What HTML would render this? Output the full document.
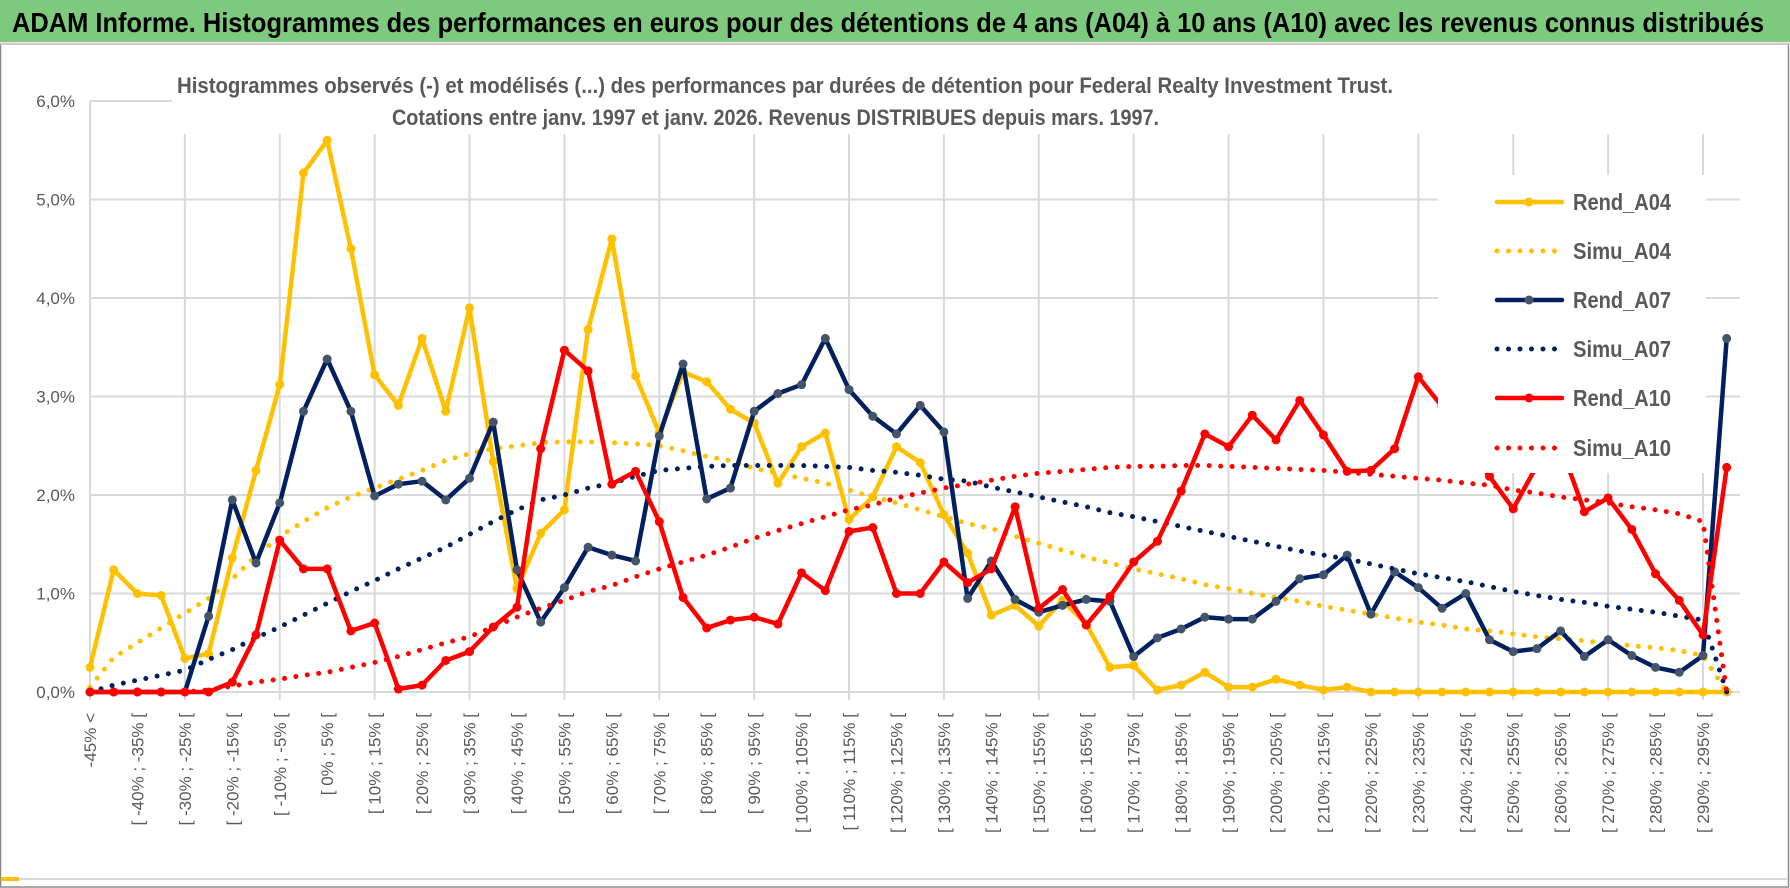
<!DOCTYPE html>
<html><head><meta charset="utf-8"><style>
html,body{margin:0;padding:0;background:#fff;}
svg{display:block;font-family:"Liberation Sans Narrow","Liberation Sans",sans-serif;}
</style></head><body>
<svg id="chart" width="1790" height="888" viewBox="0 0 1790 888">
<rect x="0" y="0" width="1790" height="888" fill="#fff"/>
<rect x="0.5" y="44" width="1788" height="843" fill="none" stroke="#8a8a8a" stroke-width="1.5"/>
<line x1="1" y1="879" x2="1788" y2="879" stroke="#d9d9d9" stroke-width="2"/>
<rect x="1" y="877" width="18" height="4" fill="#FFC000"/>
<rect x="0" y="0" width="1790" height="42" fill="#7DC97D"/>
<line x1="0" y1="43.5" x2="1790" y2="43.5" stroke="#d0d0d0" stroke-width="2"/>
<text x="12" y="32" font-size="28" font-weight="bold" fill="#000" textLength="1752" lengthAdjust="spacingAndGlyphs">ADAM Informe. Histogrammes des performances en euros pour des détentions de 4 ans (A04) à 10 ans (A10) avec les revenus connus distribués</text>
<g id="grid"></g>
<g id="ylabels"></g>
<g id="xlabels"></g>
<g id="series"></g>
<rect x="172" y="64" width="1590" height="70" fill="#fff"/>
<text x="177" y="93" font-size="22" font-weight="bold" fill="#595959" textLength="1216" lengthAdjust="spacingAndGlyphs">Histogrammes observés (-) et modélisés (...) des performances par durées de détention pour Federal Realty Investment Trust.</text>
<text x="392" y="125" font-size="22" font-weight="bold" fill="#595959" textLength="767" lengthAdjust="spacingAndGlyphs">Cotations entre janv. 1997 et janv. 2026. Revenus DISTRIBUES depuis mars. 1997.</text>
<g id="legend"></g>
</svg>
<script>
const categories = [];
categories.push("-45% <");
for (let a = -45; a <= 295; a += 5) categories.push("[ " + a + "% ; " + (a + 5) + "% [");
const yTicks = [0, 1, 2, 3, 4, 5, 6];
const yTickLabels = ["0,0%", "1,0%", "2,0%", "3,0%", "4,0%", "5,0%", "6,0%"];
const seriesNames = ["Rend_A04", "Simu_A04", "Rend_A07", "Simu_A07", "Rend_A10", "Simu_A10"];
const rendA04 = [0.25,1.24,1.0,0.98,0.34,0.39,1.36,2.25,3.12,5.27,5.6,4.5,3.22,2.91,3.59,2.85,3.9,2.34,1.05,1.61,1.85,3.68,4.6,3.21,2.63,3.25,3.15,2.87,2.73,2.12,2.49,2.63,1.75,1.98,2.49,2.33,1.8,1.41,0.78,0.88,0.67,0.93,0.69,0.25,0.27,0.02,0.07,0.2,0.05,0.05,0.13,0.07,0.02,0.05,0,0,0,0,0,0,0,0,0,0,0,0,0,0,0,0];
const simuA04 = [0.05,0.35,0.5,0.65,0.8,0.95,1.15,1.38,1.58,1.73,1.87,1.98,2.07,2.16,2.25,2.35,2.42,2.47,2.5,2.53,2.54,2.54,2.53,2.52,2.5,2.45,2.39,2.35,2.27,2.22,2.17,2.12,2.05,1.98,1.92,1.85,1.78,1.71,1.66,1.58,1.51,1.44,1.37,1.31,1.25,1.2,1.15,1.09,1.05,1.0,0.96,0.92,0.87,0.83,0.79,0.75,0.71,0.68,0.64,0.62,0.59,0.56,0.54,0.52,0.49,0.47,0.45,0.42,0.37,0];
const rendA07 = [0,0,0,0,0,0.77,1.95,1.31,1.92,2.85,3.38,2.85,1.99,2.11,2.14,1.95,2.17,2.74,1.24,0.71,1.06,1.47,1.39,1.33,2.6,3.33,1.96,2.07,2.85,3.03,3.12,3.59,3.07,2.8,2.62,2.91,2.64,0.95,1.33,0.94,0.81,0.88,0.94,0.92,0.36,0.55,0.64,0.76,0.74,0.74,0.92,1.15,1.19,1.39,0.79,1.22,1.06,0.85,1.0,0.53,0.41,0.44,0.62,0.36,0.53,0.37,0.25,0.2,0.37,3.59];
const simuA07 = [0,0.07,0.12,0.17,0.22,0.33,0.43,0.55,0.66,0.78,0.9,1.02,1.13,1.25,1.36,1.47,1.6,1.73,1.85,1.95,2.0,2.07,2.12,2.19,2.25,2.27,2.29,2.3,2.3,2.3,2.3,2.29,2.28,2.25,2.23,2.2,2.16,2.14,2.08,2.03,1.98,1.93,1.88,1.82,1.78,1.73,1.68,1.63,1.58,1.53,1.48,1.43,1.39,1.35,1.3,1.25,1.2,1.16,1.12,1.07,1.02,0.98,0.94,0.91,0.87,0.84,0.81,0.77,0.73,0];
const rendA10 = [0,0,0,0,0,0,0.1,0.58,1.54,1.25,1.25,0.62,0.7,0.03,0.07,0.32,0.41,0.66,0.86,2.47,3.47,3.26,2.11,2.24,1.73,0.96,0.65,0.73,0.76,0.69,1.21,1.03,1.63,1.67,1.0,1.0,1.32,1.11,1.25,1.88,0.85,1.04,0.68,0.97,1.32,1.53,2.04,2.62,2.49,2.81,2.56,2.96,2.61,2.24,2.25,2.47,3.2,2.9,2.5,2.19,1.86,2.3,2.5,1.83,1.97,1.65,1.2,0.93,0.58,2.28];
const simuA10 = [0,0,0,0,0,0.02,0.06,0.1,0.13,0.17,0.2,0.25,0.3,0.36,0.43,0.5,0.56,0.66,0.76,0.85,0.93,1.02,1.08,1.17,1.25,1.32,1.39,1.47,1.56,1.64,1.71,1.78,1.85,1.9,1.97,2.02,2.07,2.11,2.15,2.19,2.22,2.24,2.26,2.28,2.29,2.29,2.3,2.3,2.29,2.28,2.27,2.26,2.25,2.23,2.21,2.19,2.17,2.15,2.12,2.1,2.05,2.02,1.98,1.95,1.92,1.88,1.85,1.81,1.73,0];

const NS = "http://www.w3.org/2000/svg";
const X0 = 90, DX = 23.72, Y0 = 692, DY = 98.5;
function xPos(i) { return X0 + DX * i; }
function yPos(v) { return Y0 - DY * v; }
function mk(tag, attrs, parent) {
  const e = document.createElementNS(NS, tag);
  for (const k in attrs) e.setAttribute(k, attrs[k]);
  parent.appendChild(e);
  return e;
}
const grid = document.getElementById("grid");
for (let t = 0; t < yTicks.length; t++) {
  const l = mk("line", {x1: X0, x2: 1740, y1: yPos(yTicks[t]), y2: yPos(yTicks[t]), stroke: "#d9d9d9", "stroke-width": 2}, grid);
  
  
  const tx = mk("text", {x: 75, y: yPos(yTicks[t]) + 6, "text-anchor": "end", "font-size": 17, fill: "#595959", "font-family": "Liberation Sans, sans-serif"}, document.getElementById("ylabels"));
  tx.textContent = yTickLabels[t];
  
  
}
for (let i = 0; i < categories.length; i += 4) {
  const l = mk("line", {x1: xPos(i), x2: xPos(i), y1: yPos(6), y2: Y0 + 8, stroke: "#d9d9d9", "stroke-width": 2}, grid);
  
  
}
const xl = document.getElementById("xlabels");
for (let i = 0; i < categories.length; i += 2) {
  const x = xPos(i) + 6, y = 713;
  const t = mk("text", {x: x, y: y, transform: "rotate(-90 " + x + " " + y + ")", "text-anchor": "end", "font-size": 17, fill: "#595959", "font-family": "Liberation Sans, sans-serif"}, xl);
  t.textContent = categories[i];
  
  
}
const seriesData = [rendA04, simuA04, rendA07, simuA07, rendA10, simuA10];
const colors = ["#FFC000", "#FFC000", "#002060", "#002060", "#FF0000", "#FF0000"];
const markerColors = ["#FFC000", null, "#44546A", null, "#FF0000", null];
const sg = document.getElementById("series");
for (let s = 0; s < seriesData.length; s++) {
  const d = seriesData[s];
  let pts = "";
  for (let i = 0; i < d.length; i++) pts += xPos(i).toFixed(1) + "," + yPos(d[i]).toFixed(1) + " ";
  const dotted = s % 2 === 1;
  const pl = mk("polyline", {points: pts, fill: "none", stroke: colors[s], "stroke-width": dotted ? 5 : 4.5, "stroke-linejoin": "round", "stroke-linecap": "round", "stroke-dasharray": dotted ? "0 11.5" : "none"}, sg);
  
  
  if (!dotted) {
    for (let i = 0; i < d.length; i++) {
      const c = mk("circle", {cx: xPos(i), cy: yPos(d[i]), r: 4.5, fill: markerColors[s]}, sg);
      
      
    }
  }
}
const lg = document.getElementById("legend");
mk("rect", {x: 1438, y: 175, width: 268, height: 298, fill: "#fff"}, lg);
const legendY = [202, 251, 300, 349, 398, 448];
for (let s = 0; s < seriesNames.length; s++) {
  const y = legendY[s];
  const dotted = s % 2 === 1;
  const l = mk("line", {x1: 1497, x2: 1562, y1: y, y2: y, stroke: colors[s], "stroke-width": dotted ? 5 : 4.5, "stroke-linecap": "round", "stroke-dasharray": dotted ? "0 11.5" : "none"}, lg);
  
  
  if (!dotted) {
    const c = mk("circle", {cx: 1529, cy: y, r: 4.5, fill: markerColors[s]}, lg);
    
    
  }
  const t = mk("text", {x: 1573, y: y + 8, "font-size": 23, "font-weight": "bold", fill: "#595959", textLength: 98, lengthAdjust: "spacingAndGlyphs"}, lg);
  t.textContent = seriesNames[s];
  
  
}
</script>
</body></html>
